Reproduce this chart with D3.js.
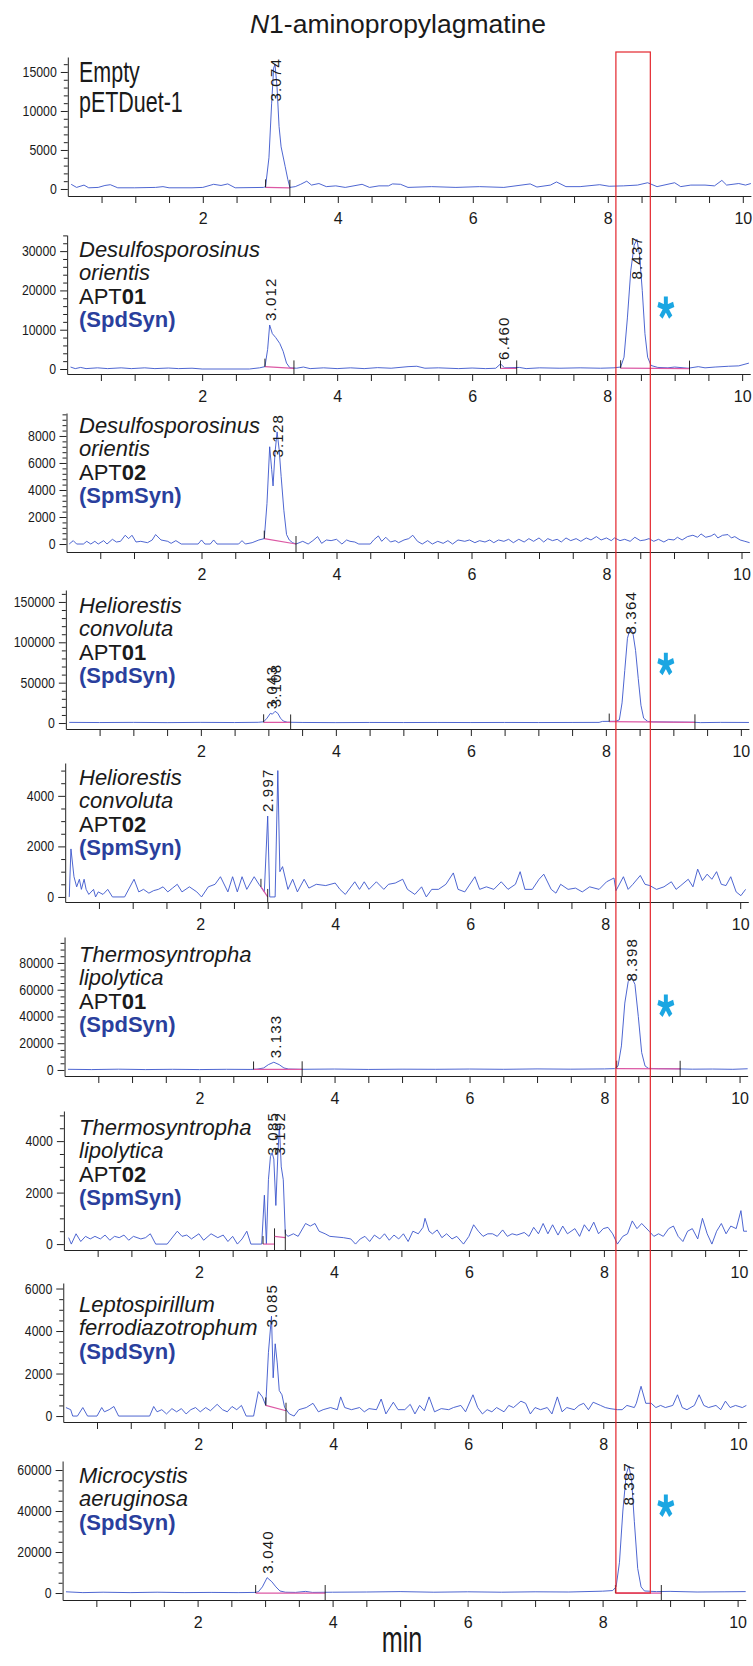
<!DOCTYPE html>
<html>
<head>
<meta charset="utf-8">
<script src="https://cdn.jsdelivr.net/npm/d3@7"></script>
<style>
  body { margin: 0; background: #fff; }
  text { font-family: "Liberation Sans", Arial, sans-serif; fill: #1a1a1a; }
  .xaxis text { font-size: 16px; }
  .yaxis text { font-size: 14px; }
  .peak { font-size: 15px; letter-spacing: 1.2px; }
  .name { font-size: 22px; }
</style>
</head>
<body>
<svg width="753" height="1666"></svg>
<script>

// chromatogram traces, [minutes, counts]
const trace1 = [[0.05,600],[0.13,200],[0.24,500],[0.31,150],[0.45,200],[0.55,450],[0.63,550],[0.74,150],[0.99,150],[1.3,200],[1.41,300],[1.5,150],[1.84,150],[2.0,200],[2.16,600],[2.27,450],[2.37,650],[2.48,150],[2.9,200],[2.93,300],[2.98,4000],[3.02,11000],[3.05,15500],[3.07,16000],[3.1,13000],[3.13,8000],[3.16,5400],[3.22,2900],[3.26,1200],[3.29,200],[3.37,300],[3.45,600],[3.54,1000],[3.61,500],[3.72,700],[3.83,300],[3.97,400],[4.11,200],[4.36,600],[4.47,200],[4.61,400],[4.75,400],[4.81,650],[4.93,600],[5.04,200],[5.39,300],[5.75,200],[6.1,300],[6.46,200],[6.85,650],[6.95,250],[7.15,500],[7.24,900],[7.38,300],[7.59,300],[7.88,550],[8.02,350],[8.23,400],[8.44,500],[8.59,800],[8.73,300],[8.99,800],[9.08,300],[9.23,500],[9.44,500],[9.58,400],[9.69,1100],[9.76,500],[9.94,700],[10.04,500],[10.12,700]];

const trace2 = [[0.05,500],[0.12,100],[0.2,400],[0.28,100],[0.45,300],[0.6,100],[0.8,300],[0.95,100],[1.15,300],[1.3,100],[1.5,250],[1.65,100],[1.85,200],[2.0,0],[2.7,0],[2.85,300],[2.93,600],[2.97,5000],[3.0,11200],[3.04,9000],[3.09,8000],[3.15,6500],[3.2,4500],[3.25,1500],[3.3,300],[3.4,200],[3.5,500],[3.6,100],[3.8,300],[4.0,100],[4.2,300],[4.4,100],[4.6,350],[4.8,200],[5.05,600],[5.18,700],[5.3,200],[5.5,300],[5.8,100],[6.0,250],[6.2,100],[6.35,200],[6.42,1300],[6.48,300],[6.7,400],[6.8,100],[7.0,300],[7.3,200],[7.6,300],[7.9,200],[8.1,300],[8.2,500],[8.25,3000],[8.3,13000],[8.35,25000],[8.4,31500],[8.44,33000],[8.48,29000],[8.52,20000],[8.56,9000],[8.6,3000],[8.65,900],[8.75,400],[8.9,300],[9.0,500],[9.2,200],[9.35,600],[9.45,300],[9.6,500],[9.8,700],[9.95,800],[10.1,1500]];

const trace3 = [[0.04,0],[0.1,250],[0.15,0],[0.25,0],[0.3,200],[0.36,0],[0.42,200],[0.47,0],[0.55,250],[0.6,0],[0.68,350],[0.74,150],[0.8,200],[0.87,650],[0.92,400],[0.97,650],[1.03,150],[1.1,200],[1.2,100],[1.27,300],[1.32,700],[1.4,300],[1.5,200],[1.55,50],[1.62,250],[1.7,0],[1.95,0],[2.0,300],[2.05,0],[2.13,0],[2.18,300],[2.23,0],[2.55,0],[2.6,250],[2.65,0],[2.75,100],[2.85,300],[2.93,400],[2.97,3000],[3.01,7200],[3.04,5500],[3.06,4300],[3.09,6800],[3.12,8300],[3.15,7000],[3.18,5000],[3.22,2500],[3.26,700],[3.3,300],[3.35,100],[3.4,0],[3.5,200],[3.58,0],[3.65,250],[3.72,550],[3.78,50],[3.85,300],[3.92,250],[4.0,350],[4.08,0],[4.15,300],[4.2,200],[4.27,150],[4.33,0],[4.5,0],[4.55,300],[4.62,600],[4.67,200],[4.73,500],[4.8,150],[4.87,250],[4.92,100],[5.0,300],[5.07,400],[5.13,650],[5.2,200],[5.27,0],[5.35,250],[5.42,0],[5.5,200],[5.58,50],[5.65,250],[5.72,0],[5.8,300],[5.9,200],[5.97,300],[6.05,100],[6.12,250],[6.2,150],[6.27,300],[6.33,100],[6.4,300],[6.48,200],[6.55,350],[6.62,100],[6.7,350],[6.78,150],[6.85,400],[6.92,200],[7.0,450],[7.07,150],[7.13,400],[7.2,250],[7.27,350],[7.33,150],[7.4,450],[7.47,250],[7.55,400],[7.62,200],[7.7,450],[7.77,300],[7.85,550],[7.92,300],[8.0,450],[8.07,250],[8.12,450],[8.2,250],[8.27,350],[8.35,200],[8.42,500],[8.5,250],[8.57,300],[8.63,400],[8.7,200],[8.77,350],[8.85,150],[8.92,350],[9.0,300],[9.05,500],[9.12,300],[9.2,550],[9.28,650],[9.35,500],[9.4,750],[9.47,500],[9.55,600],[9.6,750],[9.65,450],[9.72,650],[9.8,700],[9.85,450],[9.9,550],[9.98,300],[10.05,200],[10.12,100]];

const trace4 = [[0.05,800],[0.5,600],[1.0,800],[1.5,500],[2.0,800],[2.5,600],[2.85,900],[2.93,1500],[2.98,6000],[3.03,12000],[3.06,11000],[3.1,14500],[3.14,12000],[3.18,6000],[3.22,2500],[3.28,1000],[3.5,700],[4.0,500],[4.5,700],[5.0,600],[5.5,700],[6.0,600],[6.5,700],[7.0,600],[7.5,700],[7.9,800],[7.95,2000],[8.15,2200],[8.2,4000],[8.24,25000],[8.28,65000],[8.32,105000],[8.36,117000],[8.4,112000],[8.44,90000],[8.48,55000],[8.52,22000],[8.56,6000],[8.62,2000],[8.7,1500],[9.0,1200],[9.3,1000],[9.4,500],[9.7,800],[10.12,700]];

const trace5 = [[0.06,0],[0.085,1900],[0.13,800],[0.17,400],[0.21,700],[0.24,300],[0.28,700],[0.31,300],[0.35,100],[0.42,300],[0.45,0],[0.49,200],[0.56,100],[0.63,300],[0.7,0],[0.88,0],[1.02,700],[1.09,200],[1.16,300],[1.24,150],[1.31,250],[1.38,300],[1.45,400],[1.52,200],[1.59,350],[1.66,500],[1.73,200],[1.84,400],[1.95,200],[2.02,0],[2.12,400],[2.22,500],[2.3,800],[2.41,200],[2.48,800],[2.55,200],[2.62,800],[2.69,300],[2.8,800],[2.87,500],[2.9,400],[2.95,200],[3.0,3200],[3.03,0],[3.11,0],[3.15,5000],[3.18,1000],[3.22,1200],[3.3,300],[3.37,700],[3.44,200],[3.54,700],[3.61,350],[3.72,500],[3.86,450],[4.0,550],[4.07,300],[4.15,100],[4.29,600],[4.36,300],[4.43,600],[4.5,300],[4.61,600],[4.72,300],[4.79,500],[4.89,550],[5.0,700],[5.07,300],[5.18,100],[5.28,400],[5.35,0],[5.43,300],[5.53,300],[5.64,500],[5.75,950],[5.82,300],[5.92,200],[6.07,800],[6.14,300],[6.24,400],[6.35,300],[6.46,600],[6.56,300],[6.67,500],[6.74,1000],[6.81,300],[6.92,300],[7.02,700],[7.09,900],[7.2,300],[7.27,150],[7.34,500],[7.45,300],[7.56,350],[7.66,200],[7.77,400],[7.91,300],[8.02,600],[8.13,750],[8.16,250],[8.27,800],[8.34,300],[8.41,500],[8.52,850],[8.59,500],[8.66,450],[8.76,300],[8.87,400],[8.98,600],[9.05,300],[9.12,450],[9.23,700],[9.3,400],[9.37,1100],[9.44,650],[9.51,900],[9.58,700],[9.65,1000],[9.72,500],[9.79,450],[9.86,800],[9.94,200],[10.01,50],[10.08,300]];

const trace6 = [[0.05,500],[0.4,300],[0.8,600],[1.2,300],[1.6,500],[2.0,300],[2.4,500],[2.75,400],[2.85,600],[2.95,1500],[3.02,4000],[3.1,5800],[3.18,4000],[3.25,1500],[3.32,700],[3.5,500],[4.0,700],[4.5,400],[5.0,600],[5.5,500],[6.0,700],[6.5,500],[7.0,800],[7.5,600],[8.0,800],[8.15,1000],[8.2,3000],[8.25,18000],[8.3,50000],[8.35,66000],[8.4,69500],[8.45,64000],[8.5,40000],[8.55,13000],[8.6,3000],[8.65,1200],[8.8,1000],[9.0,900],[9.3,600],[9.6,700],[9.9,500],[10.12,900]];

const trace7 = [[0.07,250],[0.11,0],[0.18,400],[0.25,100],[0.32,300],[0.39,200],[0.46,300],[0.54,200],[0.61,350],[0.68,150],[0.75,300],[0.82,250],[0.89,350],[0.96,150],[1.03,300],[1.14,200],[1.21,250],[1.28,400],[1.36,0],[1.53,0],[1.68,500],[1.75,300],[1.82,350],[1.89,200],[2.0,400],[2.07,150],[2.18,400],[2.28,250],[2.36,350],[2.43,100],[2.5,300],[2.57,0],[2.64,200],[2.71,500],[2.77,0],[2.93,0],[2.97,1900],[3.0,0],[3.03,2500],[3.06,3400],[3.085,3550],[3.11,3300],[3.14,1500],[3.17,3500],[3.192,4600],[3.22,3000],[3.25,2500],[3.28,400],[3.32,300],[3.4,400],[3.47,300],[3.58,800],[3.65,700],[3.72,800],[3.78,500],[3.87,400],[3.94,300],[4.14,250],[4.25,200],[4.32,0],[4.39,200],[4.46,300],[4.53,100],[4.6,350],[4.68,200],[4.75,400],[4.82,150],[4.89,350],[4.96,200],[5.03,400],[5.1,100],[5.17,500],[5.25,400],[5.32,650],[5.35,1000],[5.41,500],[5.46,400],[5.53,550],[5.6,250],[5.67,400],[5.75,200],[5.82,300],[5.92,0],[6.0,300],[6.07,750],[6.14,500],[6.21,300],[6.28,400],[6.35,400],[6.42,300],[6.5,550],[6.57,300],[6.64,400],[6.71,350],[6.82,450],[6.89,300],[6.96,650],[7.03,400],[7.1,800],[7.17,400],[7.24,750],[7.32,350],[7.39,700],[7.46,400],[7.57,600],[7.64,300],[7.71,750],[7.78,500],[7.85,850],[7.92,400],[7.99,600],[8.06,650],[8.13,400],[8.2,0],[8.28,300],[8.35,400],[8.42,900],[8.49,600],[8.56,800],[8.67,500],[8.74,300],[8.81,400],[8.88,300],[8.96,600],[9.03,700],[9.1,300],[9.17,100],[9.24,500],[9.31,600],[9.39,200],[9.46,1000],[9.53,400],[9.6,0],[9.67,500],[9.74,800],[9.81,400],[9.88,700],[9.96,600],[10.03,1300],[10.07,500],[10.12,500]];

const trace8 = [[0.04,400],[0.11,300],[0.14,0],[0.21,0],[0.29,400],[0.36,0],[0.5,0],[0.57,400],[0.61,200],[0.68,300],[0.75,450],[0.82,0],[1.28,0],[1.34,450],[1.39,200],[1.46,300],[1.53,100],[1.61,350],[1.68,200],[1.75,350],[1.82,100],[1.89,300],[1.96,400],[2.03,200],[2.11,400],[2.18,250],[2.28,550],[2.36,300],[2.43,200],[2.5,450],[2.57,300],[2.64,500],[2.71,0],[2.82,0],[2.89,1150],[2.95,900],[3.0,500],[3.04,3000],[3.085,4700],[3.11,1800],[3.14,3400],[3.17,2500],[3.2,1200],[3.24,1000],[3.28,400],[3.35,100],[3.42,0],[3.49,300],[3.6,400],[3.7,600],[3.78,200],[3.85,300],[3.96,400],[4.06,300],[4.11,900],[4.17,400],[4.27,300],[4.39,400],[4.46,200],[4.53,350],[4.64,300],[4.71,800],[4.78,100],[4.89,650],[4.96,300],[5.06,300],[5.14,550],[5.21,100],[5.28,500],[5.35,250],[5.42,900],[5.5,200],[5.6,350],[5.71,300],[5.78,400],[5.89,500],[5.96,200],[6.07,1000],[6.14,400],[6.21,100],[6.28,300],[6.35,200],[6.42,400],[6.53,200],[6.6,500],[6.67,400],[6.78,700],[6.85,600],[6.92,100],[6.99,400],[7.07,300],[7.17,400],[7.24,100],[7.32,900],[7.39,200],[7.46,400],[7.57,300],[7.64,500],[7.71,600],[7.78,300],[7.85,650],[7.96,500],[8.03,400],[8.1,350],[8.21,300],[8.28,300],[8.35,500],[8.46,400],[8.49,600],[8.56,1400],[8.63,600],[8.71,600],[8.78,400],[8.85,500],[8.92,400],[9.03,500],[9.1,1000],[9.17,400],[9.24,300],[9.35,500],[9.42,1000],[9.49,500],[9.56,400],[9.67,500],[9.74,300],[9.81,700],[9.88,400],[9.96,500],[10.06,400],[10.12,500]];

const trace9 = [[0.05,600],[0.3,200],[0.6,400],[1.0,200],[1.4,400],[1.8,200],[2.2,300],[2.6,200],[2.85,300],[2.9,600],[2.96,3000],[3.03,7500],[3.1,5500],[3.16,3000],[3.22,1000],[3.3,400],[3.45,300],[3.6,800],[3.7,300],[4.0,400],[4.5,500],[5.0,700],[5.5,400],[6.0,600],[6.5,400],[7.0,600],[7.5,500],[8.0,900],[8.15,1200],[8.2,3000],[8.25,15000],[8.3,40000],[8.35,58000],[8.39,62000],[8.43,55000],[8.47,35000],[8.52,12000],[8.57,3000],[8.62,1000],[8.8,700],[9.0,800],[9.4,500],[9.8,600],[10.12,700]];

const traces = [trace1, trace2, trace3, trace4, trace5, trace6, trace7, trace8, trace9];

// y axis settings per panel
const yMin = [-900, -1270, -590, -7400, -200, -4500, -230, -280, -3400];
const yMax = [16920, 34100, 9700, 164800, 5300, 99400, 5170, 6260, 64400];
const yMajor = [5000, 10000, 2000, 50000, 2000, 20000, 2000, 2000, 20000];
const yMinor = [1000, 2000, 400, 10000, 500, 5000, 500, 500, 5000];

// retention times printed on peaks
const peakTimes = [[3.074], [3.012, 6.460, 8.437], [3.128], [3.043, 3.108, 8.364], [2.997],
                   [3.133, 8.398], [3.085, 3.192], [3.085], [3.040, 8.387]];

// integration baselines: [start min, start counts, end min, end counts]
const integrations = [
  [[2.93, 200, 3.29, 150]],
  [[2.93, 600, 3.36, 150], [6.42, 150, 6.66, 150], [8.2, 200, 9.22, 100]],
  [[2.93, 400, 3.4, 0]],
  [[2.93, 900, 3.33, 700], [8.05, 1800, 9.32, 900]],
  [[2.9, 400, 3.0, 0]],
  [[2.8, 400, 3.52, 500], [8.18, 1000, 9.12, 900]],
  [[2.95, 0, 3.12, 0], [3.12, 300, 3.28, 250]],
  [[3.0, 500, 3.3, 250]],
  [[2.86, 0, 3.89, 0], [8.19, 0, 8.87, 0]]
];

// sample labels
const species = [['Empty', 'pETDuet-1'], ['Desulfosporosinus', 'orientis'], ['Desulfosporosinus', 'orientis'],
                 ['Heliorestis', 'convoluta'], ['Heliorestis', 'convoluta'], ['Thermosyntropha', 'lipolytica'],
                 ['Thermosyntropha', 'lipolytica'], ['Leptospirillum', 'ferrodiazotrophum'], ['Microcystis', 'aeruginosa']];
const aptIds = [null, '01', '02', '01', '02', '01', '02', null, null];
const synthase = [null, 'SpdSyn', 'SpmSyn', 'SpdSyn', 'SpmSyn', 'SpdSyn', 'SpmSyn', 'SpdSyn', 'SpdSyn'];
const starLevel = [null, 15800, null, 74000, null, 48600, null, null, 42900];

const windowStart = 8.12, windowEnd = 8.63;
const starTime = 8.86;

// layout
const axisYs = [196, 374, 552, 729, 902, 1076, 1250, 1422, 1600];
const labelOffset = [25, 22, 20, 23, 22, 25, 24, 29, 22];
const plotH = 139, left0 = 67.8, pxPerMin = 67.5, tMax = 10.12;

const svg = d3.select('svg');

function squeeze(sel, k) {
  sel.each(function() {
    let w = this.getComputedTextLength();
    d3.select(this).attr('textLength', w * k).attr('lengthAdjust', 'spacingAndGlyphs');
  });
}

let title = svg.append('text')
  .attr('x', 398).attr('y', 33)
  .attr('text-anchor', 'middle')
  .attr('font-size', 26.5);
title.append('tspan').attr('font-style', 'italic').text('N');
title.append('tspan').text('1-aminopropylagmatine');

let yScales = [];

traces.forEach(function(data, i) {
  let axisY = axisYs[i];
  let top = axisY - plotH;
  let shift = -0.65 * i;

  let xScale = d3.scaleLinear()
                 .domain([0, tMax])
                 .range([left0 + shift, left0 + shift + tMax * pxPerMin]);

  let yScale = d3.scaleLinear()
                 .domain([yMin[i], yMax[i]])
                 .range([axisY, top]);
  yScales.push(yScale);

  let g = svg.append('g');

  let xAxis = d3.axisBottom(xScale)
                .tickValues(d3.range(0.5, 10.01, 0.5))
                .tickSize(7)
                .tickSizeOuter(0)
                .tickPadding(10)
                .tickFormat(d => d % 2 === 0 ? d : '');

  g.append('g')
    .attr('class', 'xaxis')
    .attr('transform', 'translate(0,' + axisY + ')')
    .attr('color', '#222')
    .call(xAxis);

  let yAxis = d3.axisLeft(yScale)
                .tickValues(d3.range(0, yMax[i], yMajor[i]))
                .tickSize(7)
                .tickSizeOuter(0)
                .tickPadding(4)
                .tickFormat(d3.format('d'));

  let yG = g.append('g')
    .attr('class', 'yaxis')
    .attr('transform', 'translate(' + xScale(0) + ',0)')
    .attr('color', '#222')
    .call(yAxis);
  squeeze(yG.selectAll('text'), 0.88);

  let minorAxis = d3.axisLeft(yScale)
                    .tickValues(d3.range(0, yMax[i], yMinor[i]).filter(v => v % yMajor[i] !== 0))
                    .tickSize(4)
                    .tickFormat('');

  g.append('g')
    .attr('transform', 'translate(' + xScale(0) + ',0)')
    .attr('color', '#222')
    .call(minorAxis)
    .select('.domain').remove();

  let line = d3.line()
               .x(d => xScale(d[0]))
               .y(d => yScale(d[1]));

  g.append('path')
    .attr('d', line(data))
    .attr('fill', 'none')
    .attr('stroke', '#3a55cc')
    .attr('stroke-width', 0.9);

  integrations[i].forEach(function(b) {
    g.append('line')
      .attr('x1', xScale(b[0])).attr('y1', yScale(b[1]))
      .attr('x2', xScale(b[2])).attr('y2', yScale(b[3]))
      .attr('stroke', '#dc58a4').attr('stroke-width', 1.2);
    g.append('line')
      .attr('x1', xScale(b[0])).attr('x2', xScale(b[0]))
      .attr('y1', yScale(b[1]) - 8).attr('y2', yScale(b[1]))
      .attr('stroke', '#111').attr('stroke-width', 0.9);
    g.append('line')
      .attr('x1', xScale(b[2])).attr('x2', xScale(b[2]))
      .attr('y1', yScale(b[3]) - 8).attr('y2', axisY)
      .attr('stroke', '#111').attr('stroke-width', 0.9);
  });

  peakTimes[i].forEach(function(t) {
    let near = data.filter(d => Math.abs(d[0] - t) <= 0.045);
    let apex = d3.max(near, d => d[1]);
    let txt = g.append('text')
               .attr('class', 'peak')
               .attr('dy', '0.36em')
               .text(t.toFixed(3));
    let len = txt.node().getComputedTextLength();
    let ys = Math.max(yScale(apex) - 4, top + len + 1);
    txt.attr('transform', 'translate(' + xScale(t) + ',' + ys + ') rotate(-90)');
  });

  // sample name block
  let by = top + labelOffset[i];
  if (i === 0) {
    species[i].forEach(function(s, k) {
      let t = g.append('text')
               .attr('x', 79).attr('y', by + k * 30)
               .attr('font-size', 29)
               .text(s);
      squeeze(t, 0.74);
    });
  } else {
    let lines = 0;
    species[i].forEach(function(s) {
      g.append('text')
        .attr('class', 'name')
        .attr('x', 79).attr('y', by + lines * 23.3)
        .attr('font-style', 'italic')
        .text(s);
      lines++;
    });
    if (aptIds[i]) {
      let t = g.append('text')
               .attr('class', 'name')
               .attr('x', 79).attr('y', by + lines * 23.3);
      t.append('tspan').text('APT');
      t.append('tspan').attr('font-weight', 'bold').text(aptIds[i]);
      lines++;
    }
    g.append('text')
      .attr('class', 'name')
      .attr('x', 79).attr('y', by + lines * 23.3)
      .attr('font-weight', 'bold')
      .style('fill', '#2a3f9d')
      .text('(' + synthase[i] + ')');
  }
});

// product window (drawn in top panel's time frame)
let boxX = d3.scaleLinear()
             .domain([0, tMax])
             .range([left0, left0 + tMax * pxPerMin]);

svg.append('rect')
  .attr('x', boxX(windowStart))
  .attr('y', 52)
  .attr('width', boxX(windowEnd) - boxX(windowStart))
  .attr('height', yScales[8](0) - 52)
  .attr('fill', 'none')
  .attr('stroke', '#e3262d')
  .attr('stroke-width', 1.2);

// asterisks
let armPath = '';
for (let k = 0; k < 5; k++) {
  let a = k * 72 * Math.PI / 180;
  armPath += 'M0,0L' + (11.5 * Math.sin(a)) + ',' + (-11.5 * Math.cos(a));
}

starLevel.forEach(function(v, i) {
  if (v === null) return;
  svg.append('path')
    .attr('d', armPath)
    .attr('transform', 'translate(' + boxX(starTime) + ',' + (yScales[i](v) + 1) + ') scale(0.72,1)')
    .attr('fill', 'none')
    .attr('stroke', '#1ba6e2')
    .attr('stroke-width', 5.5);
});

let minLabel = svg.append('text')
  .attr('x', 402).attr('y', 1652)
  .attr('text-anchor', 'middle')
  .attr('font-size', 36)
  .text('min');
squeeze(minLabel, 0.7);

</script>
</body>
</html>
